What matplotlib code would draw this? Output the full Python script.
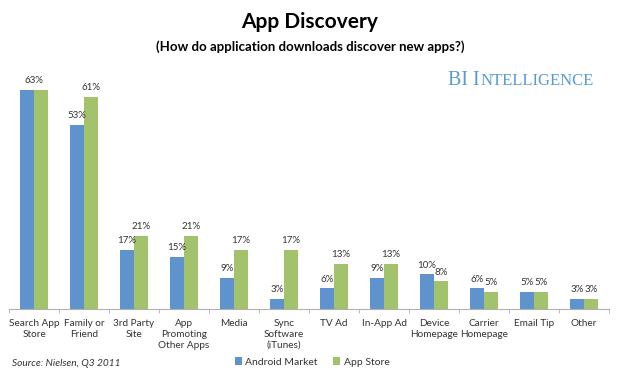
import matplotlib
matplotlib.use("Agg")
import matplotlib.pyplot as plt
import numpy as np

categories = ["Search App\nStore", "Family or\nFriend", "3rd Party\nSite", "App\nPromoting\nOther Apps",
              "Media", "Sync\nSoftware\n(iTunes)", "TV Ad", "In-App Ad", "Device\nHomepage",
              "Carrier\nHomepage", "Email Tip", "Other"]
android = [63, 53, 17, 15, 9, 3, 6, 9, 10, 6, 5, 3]
app_store = [63, 61, 21, 21, 17, 17, 13, 13, 8, 5, 5, 3]

blue = "#5E93CD"
green = "#A2C36B"
txt = "#333333"

plt.rcParams['font.family'] = ['Lato', 'DejaVu Sans']

fig = plt.figure(figsize=(6.2, 3.75), dpi=100)
ax = fig.add_axes([9 / 620, 1 - 309 / 375, 600 / 620, 226 / 375])

x = np.arange(len(categories))
w = 0.28
b1 = ax.bar(x - w / 2, android, w, color=blue, label="Android Market")
b2 = ax.bar(x + w / 2, app_store, w, color=green, label="App Store")

for i in range(len(categories)):
    a, s = android[i], app_store[i]
    if a == s and a >= 10:
        # two-digit equal labels would collide, show one over the pair
        ax.text(x[i], a + 1.3, f"{a}%", ha="center", va="bottom", fontsize=7, color=txt)
        continue
    ax.text(x[i] - w / 2, a + 1.3, f"{a}%", ha="center", va="bottom", fontsize=7, color=txt)
    ax.text(x[i] + w / 2, s + 1.3, f"{s}%", ha="center", va="bottom", fontsize=7, color=txt)

ax.set_xlim(-0.5, len(categories) - 0.5)
ax.set_ylim(0, 65)
ax.set_yticks([])
for s in ["top", "right", "left"]:
    ax.spines[s].set_visible(False)
ax.spines["bottom"].set_color("#b0b0b0")

ax.set_xticks(x)
ax.set_xticklabels(categories, fontsize=7.2, color=txt, va="top", linespacing=1.3)
ax.tick_params(axis="x", length=0, pad=7)
ax.set_xticks(np.arange(len(categories) + 1) - 0.5, minor=True)
ax.tick_params(axis="x", which="minor", length=3, color="#b0b0b0")

fig.text(0.5, 0.94, "App Discovery", ha="center", va="center", fontsize=15, fontweight="bold")
fig.text(0.5, 0.875, "(How do application downloads discover new apps?)", ha="center", va="center",
         fontsize=9.5, fontweight="bold")

# BI Intelligence logo in fake small caps
logo_col = "#5b9bd5"
t1 = fig.text(448 / 620, 1 - 85 / 375, "BI I", fontsize=14.5, family="Liberation Serif",
              color=logo_col, va="baseline")
fig.canvas.draw()
bb = t1.get_window_extent(fig.canvas.get_renderer())
fig.text(bb.x1 / fig.bbox.width + 0.001, 1 - 85 / 375, "NTELLIGENCE", fontsize=12,
         family="Liberation Serif", color=logo_col, va="baseline")

fig.text(12 / 620, 1 - 363 / 375, "Source: Nielsen, Q3 2011", fontsize=7.3, style="italic",
         color=txt, va="center")

fig.legend(loc="center", bbox_to_anchor=(312 / 620, 1 - 362 / 375), ncol=2, frameon=False,
           fontsize=7.5, handlelength=0.7, handleheight=0.7, handletextpad=0.3, columnspacing=1.5,
           labelcolor=txt)

fig.savefig("out.png", dpi=100)
